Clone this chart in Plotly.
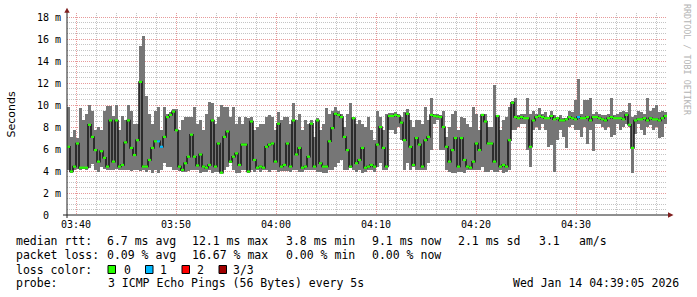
import plotly.graph_objects as go
from datetime import datetime, timedelta

# ---------------- data ----------------
start_time = datetime(2026, 1, 14, 3, 39, 6)
step_seconds = 18

median_ms = [
    6.2, 3.95, 4.4, 6.5, 4.3, 4.3, 4.3, 8.2, 7.1, 5.9, 4.85, 5.8, 5.2, 4.4, 8.6, 4.85, 8.6, 4.4, 4.55, 6.6,
    8.6, 6.1, 5.45, 6.8, 12.1, 4.4, 4.4, 5.0, 6.1, 6.7, 6.7, 6.2, 7.1, 8.9, 9.1, 9.4, 7.7, 4.4, 4.1, 4.7,
    5.3, 7.3, 5.3, 4.5, 5.5, 4.4, 4.3, 4.55, 8.6, 4.4, 6.5, 3.85, 7.1, 7.6, 4.85, 5.3, 5.6, 4.55, 6.4, 6.4,
    3.95, 8.5, 5.0, 4.3, 4.4, 4.3, 6.2, 6.4, 6.5, 4.85, 8.3, 4.4, 4.55, 6.5, 4.4, 8.6, 5.5, 6.1, 4.3, 4.4,
    5.3, 8.3, 4.4, 8.6, 4.7, 4.4, 4.4, 6.7, 7.9, 9.2, 9.1, 8.9, 7.1, 5.9, 4.4, 8.8, 4.7, 5.0, 6.1, 4.3,
    4.4, 4.55, 4.4, 6.4, 8.0, 6.1, 4.4, 9.0, 9.0, 9.1, 9.0, 8.4, 6.8, 9.2, 6.2, 4.55, 7.0, 6.4, 4.4, 6.8,
    7.1, 9.1, 9.0, 8.95, 8.9, 8.0, 6.2, 4.85, 5.9, 7.0, 4.4, 7.0, 5.0, 4.4, 4.3, 4.85, 6.5, 5.9, 9.1, 8.5,
    6.5, 6.5, 4.85, 9.0, 4.4, 4.55, 4.4, 6.8, 10.2, 8.9, 8.8, 8.9, 8.8, 8.8, 6.2, 8.6, 8.9, 9.0, 8.9, 8.8,
    8.8, 9.0, 8.7, 8.8, 8.6, 8.6, 8.7, 8.9, 8.8, 8.7, 8.9, 8.8, 8.8, 8.9, 8.6, 8.9, 8.9, 8.8, 8.7, 8.6,
    8.8, 8.9, 8.8, 8.8, 8.8, 8.7, 9.1, 8.2, 6.1, 8.6, 8.7, 8.7, 8.8, 8.6, 8.8, 8.7, 8.7, 8.6, 8.8, 9.0,
]
min_ms = [
    4.1, 3.8, 4.1, 4.2, 4.1, 4.2, 4.1, 4.3, 4.6, 4.1, 3.9, 4.4, 4.2, 4.1, 4.1, 4.1, 4.2, 4.1, 4.1, 4.1,
    4.1, 4.0, 4.1, 4.1, 4.0, 4.1, 3.9, 4.1, 3.8, 4.1, 3.8, 4.1, 4.7, 4.4, 4.4, 4.1, 4.1, 4.0, 3.9, 3.9,
    4.0, 4.1, 4.1, 4.1, 3.8, 3.9, 3.9, 4.1, 3.8, 3.9, 3.9, 3.8, 4.1, 4.4, 4.7, 4.1, 3.8, 3.8, 4.1, 4.1,
    3.8, 4.1, 3.9, 4.1, 3.9, 4.1, 4.1, 3.9, 4.1, 4.1, 3.9, 4.0, 4.0, 4.0, 3.9, 4.1, 4.1, 3.9, 3.9, 4.1,
    4.1, 4.1, 4.1, 3.9, 3.9, 3.8, 3.8, 4.1, 4.1, 4.4, 4.7, 5.0, 4.1, 4.1, 4.3, 4.1, 3.9, 4.1, 3.8, 3.9,
    4.1, 4.1, 3.9, 4.4, 4.7, 4.1, 4.1, 7.7, 7.7, 7.4, 8.0, 6.8, 4.1, 4.7, 4.1, 4.4, 4.1, 4.1, 4.1, 4.1,
    4.7, 5.9, 8.3, 8.6, 5.9, 5.9, 4.1, 3.9, 3.8, 3.8, 3.9, 3.9, 3.8, 4.1, 4.1, 4.1, 4.1, 4.1, 4.4, 3.9,
    3.9, 4.1, 3.9, 3.9, 4.1, 3.8, 3.9, 4.1, 7.7, 7.7, 8.0, 8.3, 8.3, 5.9, 4.4, 7.7, 8.0, 7.7, 8.3, 7.7,
    6.2, 6.4, 3.9, 6.8, 7.7, 7.1, 6.1, 8.0, 8.2, 7.7, 7.7, 7.1, 8.0, 6.5, 7.7, 5.8, 8.3, 8.3, 8.0, 7.7,
    8.0, 7.1, 7.3, 8.3, 7.7, 8.0, 8.3, 8.0, 3.8, 7.4, 8.3, 7.7, 7.3, 8.0, 8.2, 7.7, 8.0, 7.0, 7.1, 8.3,
]
max_ms = [
    9.8, 7.1, 7.7, 7.0, 9.7, 8.6, 9.2, 10.0, 9.5, 7.7, 8.0, 7.7, 9.5, 9.9, 9.9, 9.0, 10.0, 7.7, 9.0, 8.6,
    10.0, 9.5, 8.3, 8.3, 15.4, 16.3, 10.8, 9.2, 8.3, 9.5, 9.8, 7.7, 9.8, 9.2, 9.4, 9.6, 9.6, 7.7, 8.6, 8.9,
    8.9, 8.9, 9.8, 8.3, 8.6, 7.7, 9.2, 10.3, 10.2, 8.3, 8.9, 10.0, 9.8, 9.8, 8.9, 9.8, 8.3, 8.9, 8.3, 8.9,
    8.8, 8.9, 7.7, 8.0, 8.3, 8.3, 8.9, 9.1, 8.9, 7.7, 9.4, 8.6, 8.9, 8.9, 8.3, 10.2, 8.6, 9.2, 7.7, 8.6,
    8.3, 8.6, 7.1, 8.8, 7.7, 8.3, 9.7, 9.2, 9.5, 9.8, 9.5, 9.2, 8.0, 9.2, 10.2, 8.9, 8.3, 8.6, 8.3, 8.0,
    8.9, 7.7, 6.8, 9.5, 8.9, 7.7, 9.2, 9.3, 9.3, 9.4, 9.2, 8.9, 9.4, 9.6, 8.6, 8.0, 8.6, 8.6, 8.3, 9.8,
    8.6, 10.6, 9.2, 9.2, 9.1, 9.5, 7.1, 8.0, 9.2, 9.5, 7.7, 8.9, 8.8, 8.3, 8.0, 9.8, 9.2, 7.7, 9.2, 9.2,
    8.0, 8.0, 11.8, 9.1, 7.7, 8.6, 8.9, 9.8, 10.4, 10.6, 9.1, 9.2, 9.2, 10.6, 9.2, 9.5, 9.2, 9.7, 9.2, 9.4,
    8.9, 9.5, 9.1, 8.9, 9.1, 8.8, 8.8, 9.5, 9.4, 10.5, 12.4, 9.2, 10.5, 10.5, 10.6, 9.2, 9.4, 9.2, 9.1, 9.1,
    9.2, 10.6, 9.1, 9.2, 9.4, 9.5, 9.4, 10.2, 8.9, 9.1, 9.5, 9.4, 9.2, 10.6, 9.5, 9.7, 10.0, 9.4, 9.5, 9.4,
]
loss1_points = [30, 31, 170]   # samples where 1 of 3 pings was lost

y_tick_values = [0, 2, 4, 6, 8, 10, 12, 14, 16, 18]
y_tick_labels = ["0\u00a0\u00a0", "2 m", "4 m", "6 m", "8 m", "10 m", "12 m", "14 m", "16 m", "18 m"]

legend_rtt = [("median rtt:", 16), ("6.7 ms avg", 107), ("12.1 ms max", 192), ("3.8 ms min", 286),
              ("9.1 ms now", 372), ("2.1 ms sd", 458), ("3.1", 539), ("am/s", 579)]
legend_loss = [("packet loss:", 16), ("0.09 % avg", 107), ("16.67 % max", 192), ("0.00 % min", 286),
               ("0.00 % now", 372)]
loss_color_names = ["0", "1", "2", "3/3"]
loss_colors = ["#26ff00", "#00b8ff", "#ff0000", "#a00000"]
probe_text = "3 ICMP Echo Pings (56 Bytes) every 5s"
date_text = "Wed Jan 14 04:39:05 2026"

# ---------------- geometry helpers (pixels -> paper) ----------------
W, H = 697, 297
L, R, T, B = 67, 30, 13, 82
PW, PH = W - L - R, H - T - B


def px(x):
    return (x - L) / PW


def py(y):
    return (H - B - y) / PH


step = timedelta(seconds=step_seconds)
times = [start_time + step * i for i in range(len(median_ms))]
end_time = start_time + timedelta(hours=1)

fig = go.Figure()

# smoke
fig.add_trace(go.Bar(
    x=[t + step / 2 for t in times],
    base=min_ms,
    y=[mx - mn for mx, mn in zip(max_ms, min_ms)],
    width=step_seconds * 1000,
    marker=dict(color="#767676", line=dict(width=0)),
    hoverinfo="skip",
))

# median step line (vertical jumps visible in black)
fig.add_trace(go.Scatter(
    x=times + [times[-1] + step], y=median_ms + [median_ms[-1]],
    mode="lines", line=dict(color="#141414", width=1.5, shape="hv"), hoverinfo="skip",
))


def seg_trace(idxs, color):
    xs, ys = [], []
    for i in idxs:
        xs += [times[i], times[i] + step, None]
        ys += [median_ms[i], median_ms[i], None]
    return go.Scatter(x=xs, y=ys, mode="lines", line=dict(color=color, width=2.2), hoverinfo="skip")


green_idx = [i for i in range(len(median_ms)) if i not in loss1_points]
fig.add_trace(seg_trace(green_idx, loss_colors[0]))
fig.add_trace(seg_trace(loss1_points, loss_colors[1]))

mono = "DejaVu Sans Mono"
fig.update_layout(
    width=W, height=H,
    margin=dict(l=L, r=R, t=T, b=B, pad=0),
    paper_bgcolor="white", plot_bgcolor="white",
    showlegend=False, bargap=0, barmode="overlay",
    xaxis=dict(
        type="date", range=[start_time, end_time],
        tick0="2026-01-14 03:40:00", dtick=600000, tickformat="%H:%M",
        showgrid=True, gridcolor="#e79a9a", griddash="1px,1px", gridwidth=1,
        minor=dict(tick0="2026-01-14 03:40:00", dtick=120000, showgrid=True,
                   gridcolor="#c4c4c4", griddash="1px,1px", gridwidth=1),
        showline=False, zeroline=False, ticks="",
        tickfont=dict(family=mono, size=10, color="black"), ticklabelstandoff=2,
    ),
    yaxis=dict(
        range=[0, PH / 11.0], tickvals=y_tick_values, ticktext=y_tick_labels,
        showgrid=True, gridcolor="#e79a9a", griddash="1px,1px", gridwidth=1,
        minor=dict(dtick=0.5, showgrid=True, gridcolor="#c4c4c4", griddash="1px,1px", gridwidth=1),
        showline=False, zeroline=False, ticks="",
        tickfont=dict(family=mono, size=10, color="black"), ticklabelstandoff=5,
    ),
)

shapes = []
# axes with arrows
shapes.append(dict(type="line", xref="paper", yref="paper", x0=px(63), x1=px(669), y0=py(215), y1=py(215),
                   line=dict(color="#1f1f1f", width=1)))
shapes.append(dict(type="line", xref="paper", yref="paper", x0=px(67), x1=px(67), y0=py(218), y1=py(11),
                   line=dict(color="#1f1f1f", width=1)))
shapes.append(dict(type="path", xref="paper", yref="paper",
                   path=f"M {px(64.3)} {py(12.8)} L {px(69.7)} {py(12.8)} L {px(67)} {py(7.8)} Z",
                   fillcolor="#801f1f", line=dict(width=0)))
shapes.append(dict(type="path", xref="paper", yref="paper",
                   path=f"M {px(668)} {py(212.3)} L {px(668)} {py(217.7)} L {px(673.5)} {py(215)} Z",
                   fillcolor="#801f1f", line=dict(width=0)))
# loss colour boxes
box_x = [108, 145.5, 182, 219]
for bx, col in zip(box_x, loss_colors):
    shapes.append(dict(type="rect", xref="paper", yref="paper", x0=px(bx), x1=px(bx + 7.5),
                       y0=py(273.5), y1=py(265.5), fillcolor=col, line=dict(color="black", width=1)))
fig.update_layout(shapes=shapes)

ann = []


def txt(s, x, y, size=11.5, color="black", family=mono, **kw):
    ann.append(dict(text=s.replace(" ", "\u00a0"), x=px(x), y=py(y), xref="paper", yref="paper",
                    showarrow=False, xanchor=kw.pop("xanchor", "left"), yanchor="middle",
                    font=dict(family=family, size=size, color=color), **kw))


for s, x in legend_rtt:
    txt(s, x - 2, 241)
for s, x in legend_loss:
    txt(s, x - 2, 255)
txt("loss color:", 14, 269.5)
for name, x in zip(loss_color_names, [124, 159.5, 197, 233]):
    txt(name, x - 2, 269.5)
txt("probe:", 14, 283)
txt(probe_text, 105.5, 283)
txt(date_text, 511, 283)

ann.append(dict(text="Seconds", x=px(10.5), y=py(115), xref="paper", yref="paper", showarrow=False,
                xanchor="center", yanchor="middle", textangle=-90,
                font=dict(family="DejaVu Sans", size=11, color="black")))
ann.append(dict(text="RRDTOOL / TOBI OETIKER".replace(" ", "\u00a0"), x=px(687.5), y=py(59.5),
                xref="paper", yref="paper", showarrow=False, xanchor="center", yanchor="middle",
                textangle=90, font=dict(family=mono, size=8.4, color="#b4b4b4")))
fig.update_layout(annotations=ann)

fig.write_html("out.html", config={"displayModeBar": False})
